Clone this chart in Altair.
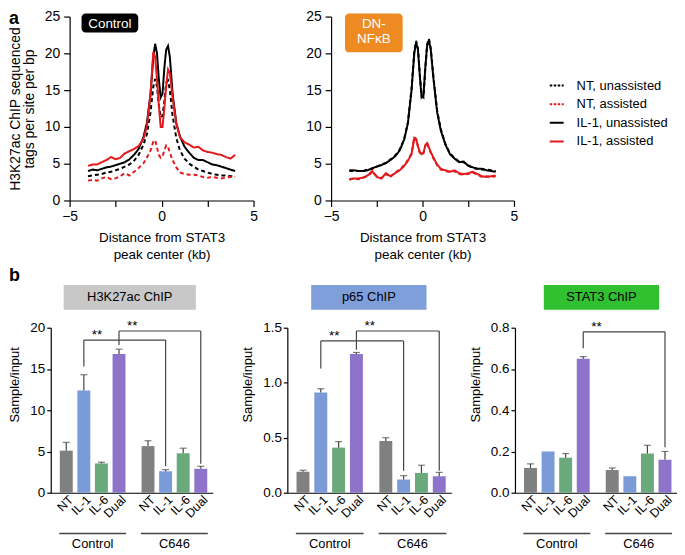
import altair as alt
import pandas as pd

# ---------------- panel a : H3K27ac ChIP-seq profiles ----------------
DIST_KB = [-4.0, -3.75, -3.5, -3.25, -3.0, -2.75, -2.5, -2.25, -2.0, -1.75, -1.5, -1.25, -1.0, -0.8,
           -0.6, -0.45, -0.35, -0.25, -0.15, -0.05, 0.05, 0.15, 0.25, 0.35, 0.45, 0.6, 0.8, 1.0,
           1.25, 1.5, 1.75, 2.0, 2.25, 2.5, 2.75, 3.0, 3.25, 3.5, 3.75, 4.0]
SERIES = ["NT, unassisted", "NT, assisted", "IL-1, unassisted", "IL-1, assisted"]

CTRL_NT_UNASSISTED = [3.3, 3.4, 3.5, 3.6, 3.8, 3.9, 4.1, 4.3, 4.6, 4.9, 5.4, 6.2, 7.5, 9.0, 12.0, 15.5,
                      16.5, 15.5, 13.0, 11.3, 11.5, 13.5, 16.0, 16.3, 15.0, 11.5, 8.5, 6.8, 5.7, 5.0,
                      4.6, 4.2, 4.0, 3.8, 3.6, 3.5, 3.4, 3.4, 3.3, 3.3]
CTRL_NT_ASSISTED = [2.7, 2.8, 2.7, 3.0, 3.2, 2.9, 3.0, 3.3, 3.7, 3.4, 3.9, 4.4, 5.0, 5.8, 6.8, 8.0,
                    8.2, 7.2, 6.2, 5.8, 6.0, 6.8, 7.5, 7.3, 6.5, 5.5, 4.5, 3.8, 3.6, 3.5, 3.5, 3.4,
                    3.2, 3.1, 3.2, 3.1, 3.0, 3.1, 3.2, 3.2]
CTRL_IL1_UNASSISTED = [4.0, 4.2, 4.1, 4.3, 4.5, 4.6, 4.8, 5.0, 5.2, 5.6, 6.2, 7.0, 8.5, 10.5, 14.5,
                       19.5, 21.3, 20.0, 16.5, 14.0, 14.5, 18.0, 20.5, 21.0, 19.5, 14.5, 10.5, 8.7,
                       7.3, 6.5, 5.8, 5.5, 5.5, 5.2, 4.9, 4.8, 4.6, 4.4, 4.2, 4.0]
CTRL_IL1_ASSISTED = [4.7, 4.9, 4.9, 5.2, 5.5, 5.9, 5.6, 5.8, 6.4, 6.7, 7.0, 7.4, 8.3, 10.0, 14.5,
                     20.2, 19.5, 16.5, 13.0, 10.0, 10.0, 12.5, 15.5, 17.8, 17.3, 14.0, 10.5, 8.6,
                     7.9, 7.6, 7.2, 7.3, 6.8, 6.6, 6.5, 6.3, 6.2, 5.9, 5.7, 6.2]

DN_NT_UNASSISTED = [4.0, 4.0, 4.0, 4.0, 4.2, 4.3, 4.6, 4.9, 5.1, 5.6, 6.1, 6.9, 8.4, 10.6, 15.2, 20.3,
                    21.7, 20.7, 17.2, 14.2, 14.0, 17.8, 21.2, 22.0, 20.7, 16.7, 12.2, 9.7, 7.7, 6.4,
                    5.8, 5.3, 5.2, 4.8, 4.4, 4.3, 4.2, 4.2, 4.1, 4.0]
DN_NT_ASSISTED = [2.8, 3.0, 2.9, 3.1, 3.3, 3.9, 3.3, 3.0, 3.6, 3.2, 3.8, 4.2, 4.8, 5.5, 6.4, 8.6,
                  8.4, 7.3, 6.5, 6.2, 6.4, 7.5, 7.9, 7.1, 6.5, 5.7, 4.8, 4.2, 4.0, 3.9, 4.0, 3.6,
                  3.5, 3.6, 3.8, 3.5, 3.2, 3.3, 3.2, 3.3]
DN_IL1_UNASSISTED = [4.1, 4.1, 4.0, 4.0, 4.1, 4.4, 4.6, 4.8, 5.1, 5.5, 6.0, 6.8, 8.3, 10.5, 15.0, 20.0,
                     21.5, 20.5, 17.0, 14.0, 14.2, 18.0, 21.0, 21.8, 20.5, 16.5, 12.0, 9.5, 7.6, 6.3,
                     5.7, 5.2, 5.3, 4.7, 4.5, 4.3, 4.3, 4.1, 4.0, 3.9]
DN_IL1_ASSISTED = [2.9, 3.0, 3.0, 3.1, 3.4, 4.0, 3.2, 3.0, 3.7, 3.3, 3.7, 4.1, 4.7, 5.4, 6.3, 8.5,
                   8.3, 7.4, 6.6, 6.3, 6.5, 7.4, 7.8, 7.2, 6.6, 5.8, 4.9, 4.3, 4.1, 3.9, 4.1, 3.7,
                   3.6, 3.7, 3.9, 3.6, 3.3, 3.2, 3.3, 3.4]

SERIES_COLORS = ["#000000", "#e3191c", "#000000", "#e3191c"]
SERIES_DASHES = [[4, 3], [4, 3], [1, 0], [1, 0]]
LEGEND_DASHES = [[2.5, 1.5], [2.5, 1.5], [1, 0], [1, 0]]

# ---------------- panel b : ChIP-qPCR ----------------
TREATMENTS = ["NT", "IL-1", "IL-6", "Dual"]
GROUPS = ["Control", "C646"]
TREAT_COLORS = ["#808080", "#7b9bd8", "#6aa97b", "#8d73c9"]

H3K27AC_MEAN = [5.1, 12.4, 3.55, 16.8, 5.65, 2.6, 4.8, 2.9]
H3K27AC_ERR = [1.0, 1.9, 0.15, 0.6, 0.65, 0.2, 0.6, 0.3]
H3K27AC_BRACKETS = [(1, 5, 18.5, 15.3, 3.2), (3, 7, 19.6, 17.9, 3.5)]

P65_MEAN = [0.19, 0.91, 0.41, 1.26, 0.47, 0.12, 0.18, 0.15]
P65_ERR = [0.015, 0.035, 0.055, 0.015, 0.03, 0.035, 0.07, 0.035]
P65_BRACKETS = [(1, 5, 1.38, 1.13, 0.2), (3, 7, 1.47, 1.30, 0.2)]

STAT3_MEAN = [0.12, 0.20, 0.17, 0.65, 0.11, 0.08, 0.19, 0.16]
STAT3_ERR = [0.02, 0.0, 0.02, 0.01, 0.01, 0.0, 0.04, 0.04]
STAT3_BRACKETS = [(3, 7, 0.78, 0.70, 0.22)]

FONT = "Liberation Sans"
GAP = 0.65


def positions():
    return [i + (GAP if i >= len(TREATMENTS) else 0) for i in range(len(TREATMENTS) * len(GROUPS))]


def profile_frame(columns):
    rows = []
    for name, vals in zip(SERIES, columns):
        for x, v in zip(DIST_KB, vals):
            rows.append({"kb": x, "tags": v, "series": name})
    return pd.DataFrame(rows)


def profile_panel(columns, W, H, ytitle, box_label, box_color, box_x, box_h, panel_letter):
    df = profile_frame(columns)
    xaxis = alt.Axis(values=[-5, -2.5, 0, 2.5, 5], labelExpr="abs(datum.value) == 2.5 ? '' : datum.label",
                     tickSize=6, labelFontSize=14, labelPadding=3, labelFlush=False,
                     title=["Distance from STAT3", "peak center (kb)"], titleFontSize=13.5,
                     titlePadding=7, titleLineHeight=17)
    yaxis_kw = dict(values=[0, 5, 10, 15, 20, 25], tickSize=6, labelFontSize=14, labelPadding=4,
                    labelFlush=False)
    if ytitle:
        yaxis = alt.Axis(title=ytitle, titleFontSize=14, titlePadding=8, titleLineHeight=14, **yaxis_kw)
    else:
        yaxis = alt.Axis(title=None, **yaxis_kw)
    lines = alt.Chart(df).mark_line(strokeWidth=2).encode(
        x=alt.X("kb:Q", scale=alt.Scale(domain=[-5, 5], nice=False), axis=xaxis),
        y=alt.Y("tags:Q", scale=alt.Scale(domain=[0, 25], nice=False), axis=yaxis),
        color=alt.Color("series:N", scale=alt.Scale(domain=SERIES, range=SERIES_COLORS), legend=None),
        strokeDash=alt.StrokeDash("series:N", scale=alt.Scale(domain=SERIES, range=SERIES_DASHES), legend=None),
    )
    bdf = pd.DataFrame({"label": [box_label]})
    box = alt.Chart(bdf).mark_rect(color=box_color, cornerRadius=4).encode(
        x=alt.value(box_x[0]), x2=alt.value(box_x[1]), y=alt.value(-3), y2=alt.value(-3 + box_h))
    btxt = alt.Chart(bdf).mark_text(color="white", fontSize=13.5, lineBreak="\n", lineHeight=16,
                                    baseline="top").encode(
        x=alt.value((box_x[0] + box_x[1]) / 2), y=alt.value(0), text="label:N")
    layers = [lines, box, btxt]
    if panel_letter:
        ldf = pd.DataFrame({"t": [panel_letter]})
        layers.append(alt.Chart(ldf).mark_text(fontSize=18, fontWeight="bold", align="left",
                                               baseline="top").encode(
            x=alt.value(-61), y=alt.value(-7), text="t:N"))
    return alt.layer(*layers).properties(width=W, height=H)


def legend_panel(W, H):
    df = pd.DataFrame({"series": SERIES})
    yenc = alt.Y("series:N", sort=SERIES, axis=None,
                 scale=alt.Scale(domain=SERIES, range=[60, 135], padding=0))
    rule = alt.Chart(df).mark_rule(strokeWidth=2).encode(
        x=alt.value(0), x2=alt.value(14), y=yenc,
        color=alt.Color("series:N", scale=alt.Scale(domain=SERIES, range=SERIES_COLORS), legend=None),
        strokeDash=alt.StrokeDash("series:N", scale=alt.Scale(domain=SERIES, range=LEGEND_DASHES), legend=None),
    )
    txt = alt.Chart(df).mark_text(fontSize=13, align="left", baseline="middle", color="black").encode(
        x=alt.value(27), y=yenc, text="series:N")
    return alt.layer(rule, txt).properties(width=W, height=H)


def chip_panel(means, errs, brackets, ymax, ticks, fmt, title, box_color, box_x, W, H, letter):
    pos = positions()
    df = pd.DataFrame({
        "treatment": TREATMENTS * len(GROUPS),
        "group": [g for g in GROUPS for _ in TREATMENTS],
        "mean": means, "err": errs, "pos": pos,
    })
    df["upper"] = df["mean"] + df["err"]
    df["lpos"] = df["pos"] + 0.28
    base = alt.Chart(df)
    xdom = alt.Scale(domain=[-0.6, pos[-1] + 0.4], nice=False, zero=False)
    yscale = alt.Scale(domain=[0, ymax], nice=False)
    ytitle = "Sample/input"
    yaxis = alt.Axis(values=ticks, format=fmt, tickSize=4, labelPadding=2, labelFontSize=13.5,
                     labelFlush=False, title=ytitle, titleFontSize=13, titlePadding=8, titleY=57)
    xaxis = alt.Axis(labels=False, ticks=False, title=None, domain=True)

    bars = base.mark_bar(size=13).encode(
        x=alt.X("pos:Q", scale=xdom, axis=xaxis),
        y=alt.Y("mean:Q", scale=yscale, axis=yaxis),
        color=alt.Color("treatment:N", scale=alt.Scale(domain=TREATMENTS, range=TREAT_COLORS), legend=None),
    )
    eb = base.transform_filter("datum.err > 0")
    err_line = eb.mark_rule(color="#444", strokeWidth=1.2).encode(
        x=alt.X("pos:Q", title=None), y=alt.Y("mean:Q", title=ytitle), y2="upper:Q")
    err_cap = eb.mark_tick(orient="horizontal", size=7, thickness=1.2, color="#444").encode(
        x=alt.X("pos:Q", title=None), y=alt.Y("upper:Q", title=ytitle))

    brows = []
    for (i, j, top, yl, yr) in brackets:
        brows.append({"x1": pos[i], "x2": pos[j], "top": top, "yl": yl, "yr": yr,
                      "sx": pos[i] + 0.75, "star": "**"})
    bdf = alt.Chart(pd.DataFrame(brows))
    bkw = dict(color="#444", strokeWidth=1.2)
    b_left = bdf.mark_rule(**bkw).encode(x=alt.X("x1:Q", title=None), y=alt.Y("yl:Q", title=ytitle), y2="top:Q")
    b_right = bdf.mark_rule(**bkw).encode(x=alt.X("x2:Q", title=None), y=alt.Y("yr:Q", title=ytitle), y2="top:Q")
    b_top = bdf.mark_rule(**bkw).encode(x=alt.X("x1:Q", title=None), x2="x2:Q", y=alt.Y("top:Q", title=ytitle))
    stars = bdf.mark_text(fontSize=13.5, baseline="alphabetic", dy=-1).encode(
        x=alt.X("sx:Q", title=None), y=alt.Y("top:Q", title=ytitle), text="star:N")

    labels = base.mark_text(angle=315, align="right", baseline="middle", fontSize=12.5).encode(
        x=alt.X("lpos:Q", title=None), y=alt.value(H + 5), text="treatment:N")

    gdf = df.groupby("group", sort=False)["pos"].agg(["min", "max"]).reset_index()
    gdf["lo"] = gdf["min"] - 0.4
    gdf["hi"] = gdf["max"] + 0.4
    gdf["mid"] = (gdf["lo"] + gdf["hi"]) / 2
    gbase = alt.Chart(gdf)
    grule = gbase.mark_rule(color="#444", strokeWidth=1.5).encode(
        x=alt.X("lo:Q", title=None), x2="hi:Q", y=alt.value(H + 41))
    gtext = gbase.mark_text(fontSize=13, baseline="middle").encode(
        x=alt.X("mid:Q", title=None), y=alt.value(H + 52), text="group:N")

    tdf = alt.Chart(pd.DataFrame({"title": [title]}))
    tbox = tdf.mark_rect(color=box_color).encode(
        x=alt.value(box_x[0]), x2=alt.value(box_x[1]), y=alt.value(-43), y2=alt.value(-18))
    ttxt = tdf.mark_text(fontSize=13, baseline="middle").encode(
        x=alt.value((box_x[0] + box_x[1]) / 2), y=alt.value(-30.5), text="title:N")

    layers = [bars, err_line, err_cap, b_left, b_right, b_top, stars, labels, grule, gtext, tbox, ttxt]
    if letter:
        ldf = alt.Chart(pd.DataFrame({"t": [letter]}))
        layers.append(ldf.mark_text(fontSize=18, fontWeight="bold", align="left", baseline="top").encode(
            x=alt.value(-42), y=alt.value(-61), text="t:N"))
    return alt.layer(*layers).properties(width=W, height=H)


def spacer(w):
    return alt.Chart(pd.DataFrame({"s": [0]})).mark_point(opacity=0).encode(
        x=alt.value(0), y=alt.value(0)).properties(width=w, height=1)


H_TOP, H_BOT = 185, 166
ROW_GAP = 128

left = profile_panel([CTRL_NT_UNASSISTED, CTRL_NT_ASSISTED, CTRL_IL1_UNASSISTED, CTRL_IL1_ASSISTED],
                     185, H_TOP, ["H3K27ac ChIP sequenced", "tags per site per bp"],
                     "Control", "#000000", (12, 69), 19, "a")
right = profile_panel([DN_NT_UNASSISTED, DN_NT_ASSISTED, DN_IL1_UNASSISTED, DN_IL1_ASSISTED],
                      184, H_TOP, None, "DN-\nNFκB", "#ee8a22", (14, 72), 39, None)
legend = legend_panel(110, H_TOP)

b1 = chip_panel(H3K27AC_MEAN, H3K27AC_ERR, H3K27AC_BRACKETS, 20, [0, 5, 10, 15, 20], "d",
                "H3K27ac ChIP", "#c8c8c8", (13, 146), 163, H_BOT, "b")
b2 = chip_panel(P65_MEAN, P65_ERR, P65_BRACKETS, 1.5, [0, 0.5, 1.0, 1.5], ".1f",
                "p65 ChIP", "#7f9fda", (24, 140), 165, H_BOT, None)
b3 = chip_panel(STAT3_MEAN, STAT3_ERR, STAT3_BRACKETS, 0.8, [0, 0.2, 0.4, 0.6, 0.8], ".1f",
                "STAT3 ChIP", "#30c030", (29, 145), 163, H_BOT, None)

top_row = alt.hconcat(spacer(19), left, spacer(78), right, spacer(36), legend,
                      spacing=0, bounds="flush").resolve_scale(color="independent", strokeDash="independent")
bottom_row = alt.hconcat(b1, spacer(75), b2, spacer(64), b3,
                         spacing=0, bounds="flush").resolve_scale(color="independent")

chart = alt.vconcat(
    top_row, bottom_row, spacing=H_TOP + ROW_GAP, bounds="flush"
).resolve_scale(
    color="independent", strokeDash="independent"
).properties(
    padding=0
).configure(
    font=FONT
).configure_view(
    stroke=None
).configure_axis(
    grid=False, domainColor="#000", tickColor="#000", labelColor="#000", titleColor="#000",
    titleFontWeight="normal", domainWidth=1.2, tickWidth=1.2
)

chart.save("out.html", embed_options={"renderer": "svg", "actions": False})
